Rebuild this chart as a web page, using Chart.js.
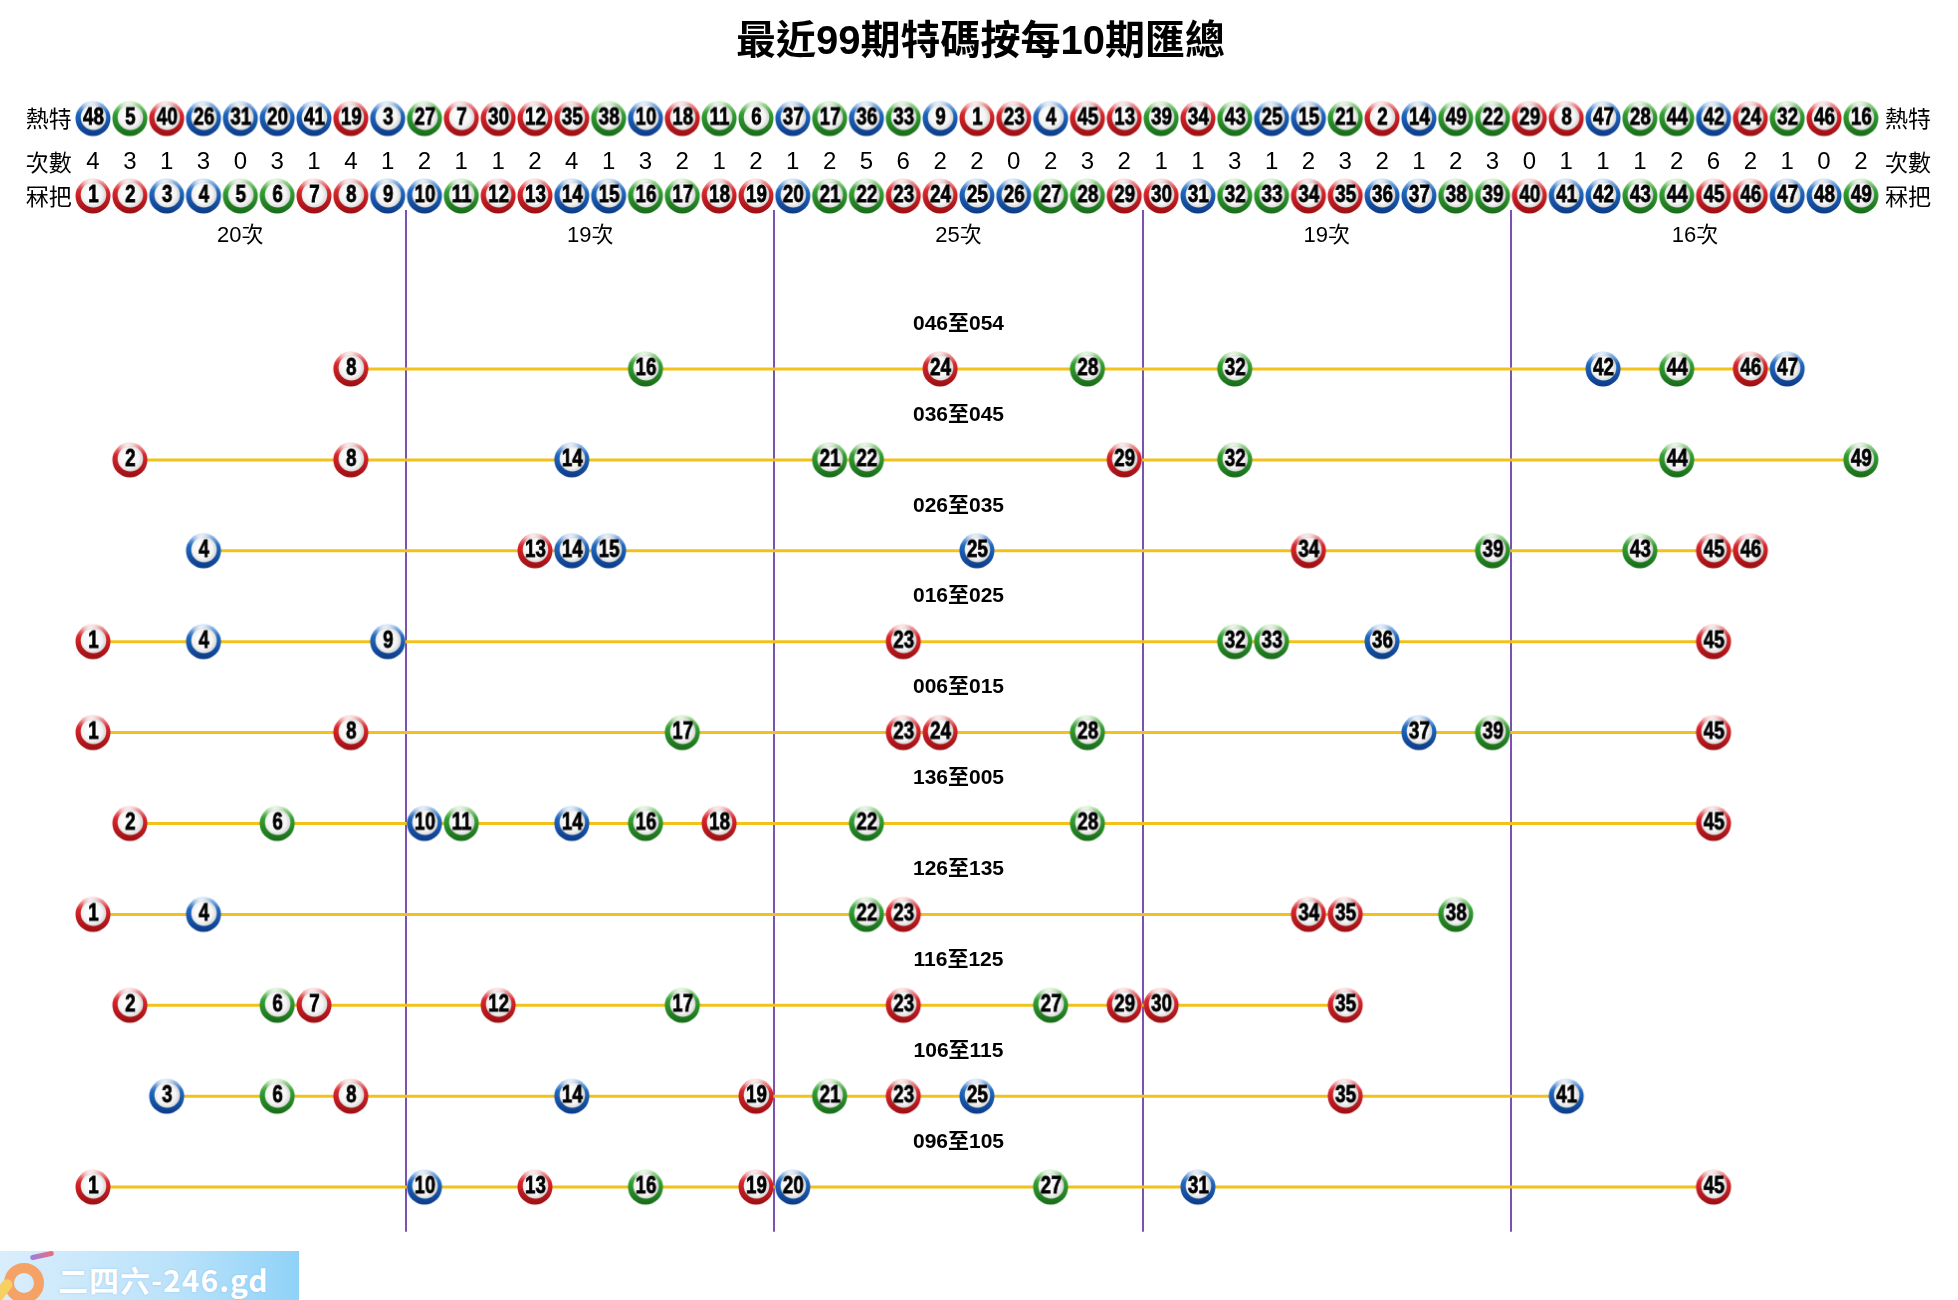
<!DOCTYPE html>
<html>
<head>
<meta charset="utf-8">
<script src="https://cdn.jsdelivr.net/npm/chart.js@4.4.1/dist/chart.umd.min.js"></script>
<style>
  body { margin: 0; background: #fff; }
  #wrap { position: relative; width: 1958px; height: 1300px; }
  #logo { position: absolute; left: 0; top: 1251px; width: 299px; height: 49px;
          background: linear-gradient(90deg, #d9eefc 0%, #b9e2fa 60%, #8fd2f8 100%); overflow: hidden; }
  #logo .ring { position: absolute; left: 4px; top: 12px; width: 20px; height: 20px; border-radius: 50%;
                border: 10px solid #f4a266; }
  #logo .stem { position: absolute; left: 6px; top: 26px; width: 11px; height: 30px; border-radius: 6px;
                background: #f8cf62; transform: rotate(38deg); transform-origin: top left; }
  #logo .streak { position: absolute; left: 30px; top: 2px; width: 24px; height: 5px; border-radius: 3px;
                  background: linear-gradient(90deg, #9a7ee0, #f06a7a); transform: rotate(-12deg); }
  #logo .txt { position: absolute; left: 58px; top: 6px; font: bold 30px "Noto Sans CJK SC", sans-serif;
               color: #fff; letter-spacing: 1px; text-shadow: 0 0 2px rgba(120,170,220,0.6); }
</style>
</head>
<body>
<div id="wrap">
  <canvas id="myChart" width="1958" height="1300"></canvas>
  <div id="logo"><span class="ring"></span><span class="stem"></span><span class="streak"></span><span class="txt">二四六-246.gd</span></div>
</div>
<script>
// datos
const TITLE = '最近99期特碼按每10期匯總';
const HOT = [48, 5, 40, 26, 31, 20, 41, 19, 3, 27, 7, 30, 12, 35, 38, 10, 18, 11, 6, 37,
             17, 36, 33, 9, 1, 23, 4, 45, 13, 39, 34, 43, 25, 15, 21, 2, 14, 49, 22, 29,
             8, 47, 28, 44, 42, 24, 32, 46, 16];
const COUNTS = [4, 3, 1, 3, 0, 3, 1, 4, 1, 2, 1, 1, 2, 4, 1, 3, 2, 1, 2, 1,
                2, 5, 6, 2, 2, 0, 2, 3, 2, 1, 1, 3, 1, 2, 3, 2, 1, 2, 3, 0,
                1, 1, 1, 2, 6, 2, 1, 0, 2];
const NUMBERS = Array.from({ length: 49 }, (_, i) => i + 1);
const GROUPS = [[1, 9], [10, 19], [20, 29], [30, 39], [40, 49]];
const GROUP_LABELS = ['20次', '19次', '25次', '19次', '16次'];
const ROW_LABELS = ['046至054', '036至045', '026至035', '016至025', '006至015',
                    '136至005', '126至135', '116至125', '106至115', '096至105'];
const ROWS = [
  [8, 16, 24, 28, 32, 42, 44, 46, 47],
  [2, 8, 14, 21, 22, 29, 32, 44, 49],
  [4, 13, 14, 15, 25, 34, 39, 43, 45, 46],
  [1, 4, 9, 23, 32, 33, 36, 45],
  [1, 8, 17, 23, 24, 28, 37, 39, 45],
  [2, 6, 10, 11, 14, 16, 18, 22, 28, 45],
  [1, 4, 22, 23, 34, 35, 38],
  [2, 6, 7, 12, 17, 23, 27, 29, 30, 35],
  [3, 6, 8, 14, 19, 21, 23, 25, 35, 41],
  [1, 10, 13, 16, 19, 20, 27, 31, 45]
];
const RED = [1, 2, 7, 8, 12, 13, 18, 19, 23, 24, 29, 30, 34, 35, 40, 45, 46];
const BLUE = [3, 4, 9, 10, 14, 15, 20, 25, 26, 31, 36, 37, 41, 42, 47, 48];

// posiciones verticales de las filas de cabecera (en unidades de fila)
const Y_TITLE = -3.586, Y_HOT = -2.755, Y_COUNT = -2.277, Y_BASE = -1.903, Y_GROUP = -1.463;
const Y_VTOP = -1.749, Y_VBOTTOM = 9.49;
const X_LEFT_LABEL = -0.2, X_RIGHT_LABEL = 50.28;

const PALETTE = {
  red:   { light: '#f8d2d2', mid: '#d8262c', dark: '#9a0e12' },
  blue:  { light: '#c0daf6', mid: '#1f68c0', dark: '#0c3a86' },
  green: { light: '#cdeec0', mid: '#32a032', dark: '#186a18' }
};

function colorOf(n) {
  if (RED.includes(n)) return PALETTE.red;
  if (BLUE.includes(n)) return PALETTE.blue;
  return PALETTE.green;
}

//Creo la imagen de cada bola
function makeBall(n) {
  const c = document.createElement('canvas');
  c.width = 40; c.height = 40;
  const g = c.getContext('2d');
  const cx = 20, cy = 20, R = 17.5;
  const col = colorOf(n);
  const rg = g.createLinearGradient(0, 2, 0, 38);
  rg.addColorStop(0, col.light);
  rg.addColorStop(0.35, col.mid);
  rg.addColorStop(1, col.dark);
  g.beginPath(); g.arc(cx, cy, R, 0, Math.PI * 2); g.fillStyle = rg; g.fill();
  // brillo arriba
  const hg = g.createRadialGradient(cx - 2, cy - 12, 1, cx - 2, cy - 12, 10);
  hg.addColorStop(0, 'rgba(255,255,255,0.95)');
  hg.addColorStop(1, 'rgba(255,255,255,0)');
  g.beginPath(); g.arc(cx, cy, R, 0, Math.PI * 2); g.fillStyle = hg; g.fill();
  // centro blanco
  const ig = g.createRadialGradient(cx - 3, cy - 5, 2, cx, cy - 1, 13.5);
  ig.addColorStop(0, '#ffffff');
  ig.addColorStop(0.7, '#f4f4f4');
  ig.addColorStop(1, '#d2d2d2');
  g.beginPath(); g.arc(cx + 0.5, cy - 1.2, 12.8, 0, Math.PI * 2); g.fillStyle = ig; g.fill();
  g.save();
  g.translate(cx + 0.5, cy - 0.3);
  g.scale(0.78, 1);
  g.font = 'bold 24px "Liberation Sans", Arial, sans-serif';
  g.textAlign = 'center';
  g.textBaseline = 'middle';
  g.fillStyle = '#000';
  g.strokeStyle = '#000';
  g.lineWidth = 0.8;
  g.fillText(String(n), 0, 0);
  g.strokeText(String(n), 0, 0);
  g.restore();
  return c;
}

const BALL = {};
NUMBERS.forEach(n => { BALL[n] = makeBall(n); });

const ballStyle = ctx => BALL[ctx.raw.n];

const datasets = [];
ROWS.forEach((row, r) => {
  datasets.push({
    label: ROW_LABELS[r],
    data: row.map(n => ({ x: n, y: r, n: n })),
    showLine: true,
    borderColor: '#f2c21b',
    borderWidth: 3,
    pointStyle: ballStyle,
    pointRadius: 17,
    clip: false
  });
});
datasets.push({
  label: '熱特',
  data: HOT.map((n, i) => ({ x: i + 1, y: Y_HOT, n: n })),
  showLine: false, pointStyle: ballStyle, pointRadius: 17, clip: false
});
datasets.push({
  label: '冧把',
  data: NUMBERS.map(n => ({ x: n, y: Y_BASE, n: n })),
  showLine: false, pointStyle: ballStyle, pointRadius: 17, clip: false
});

//Plugin para lineas divisorias y textos
const extras = {
  id: 'extras',
  beforeDatasetsDraw(chart) {
    const { ctx, scales: { x, y } } = chart;
    ctx.save();
    ctx.strokeStyle = '#7b52b4';
    ctx.lineWidth = 2;
    GROUPS.slice(1).forEach(gr => {
      const px = Math.round(x.getPixelForValue(gr[0] - 0.5));
      ctx.beginPath();
      ctx.moveTo(px, y.getPixelForValue(Y_VTOP));
      ctx.lineTo(px, y.getPixelForValue(Y_VBOTTOM));
      ctx.stroke();
    });
    ctx.restore();
  },
  afterDatasetsDraw(chart) {
    const { ctx, scales: { x, y } } = chart;
    ctx.save();
    ctx.fillStyle = '#000';
    ctx.textAlign = 'center';
    ctx.textBaseline = 'middle';

    ctx.font = 'bold 40px "Liberation Sans", "Noto Sans CJK TC", sans-serif';
    ctx.fillText(TITLE, x.getPixelForValue(25.1), y.getPixelForValue(Y_TITLE));

    ctx.font = '23px "Noto Sans CJK TC", sans-serif';
    [['熱特', Y_HOT], ['次數', Y_COUNT], ['冧把', Y_BASE]].forEach(([t, yy]) => {
      ctx.fillText(t, x.getPixelForValue(X_LEFT_LABEL), y.getPixelForValue(yy));
      ctx.fillText(t, x.getPixelForValue(X_RIGHT_LABEL), y.getPixelForValue(yy));
    });

    ctx.font = '24px "Liberation Sans", sans-serif';
    COUNTS.forEach((c, i) => {
      ctx.fillText(String(c), x.getPixelForValue(i + 1), y.getPixelForValue(Y_COUNT));
    });

    ctx.font = '22px "Liberation Sans", "Noto Sans CJK TC", sans-serif';
    GROUPS.forEach((gr, i) => {
      ctx.fillText(GROUP_LABELS[i], x.getPixelForValue((gr[0] + gr[1]) / 2), y.getPixelForValue(Y_GROUP));
    });

    ctx.font = 'bold 21px "Liberation Sans", "Noto Sans CJK TC", sans-serif';
    ROW_LABELS.forEach((t, r) => {
      ctx.fillText(t, x.getPixelForValue(24.5), y.getPixelForValue(r - 0.495));
    });
    ctx.restore();
  }
};

const config = {
  type: 'scatter',
  data: { datasets: datasets },
  options: {
    responsive: false,
    animation: false,
    devicePixelRatio: 1,
    layout: { padding: 0, autoPadding: false },
    plugins: { legend: { display: false }, tooltip: { enabled: false } },
    scales: {
      x: { type: 'linear', display: false, min: -1.525, max: 51.638 },
      y: { type: 'linear', display: false, reverse: true, min: -4.059, max: 10.242 }
    }
  },
  plugins: [extras]
};

let myChart = new Chart(document.getElementById('myChart'), config);
</script>
</body>
</html>
